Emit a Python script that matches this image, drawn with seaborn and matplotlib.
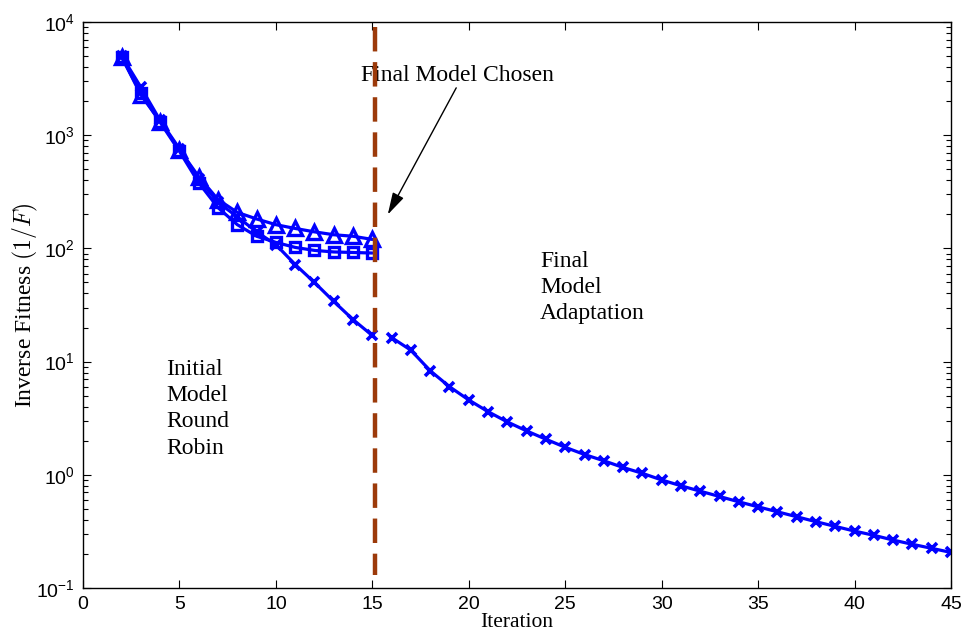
import numpy as np
import pandas as pd
import matplotlib
matplotlib.use("Agg")
import matplotlib.pyplot as plt
import seaborn as sns
from matplotlib.ticker import FixedLocator, FuncFormatter, LogLocator, NullFormatter

# ---------------- data ----------------
iter_round = [2, 3, 4, 5, 6, 7, 8, 9, 10, 11, 12, 13, 14, 15]
fit_triangle = [4950, 2270, 1320, 745, 430, 270, 208, 182, 162, 150, 140, 132, 128, 120]
fit_square = [4900, 2350, 1300, 720, 380, 229, 162, 128, 113, 102, 96, 93, 92, 91]
fit_cross_round = [5050, 2650, 1350, 760, 410, 255, 190, 140, 108, 72, 50, 34, 23.5, 17.0]

iter_adapt = list(range(16, 46))
fit_cross_adapt = [16.3, 12.6, 8.3, 6.0, 4.58, 3.61, 2.93, 2.44, 2.06, 1.75,
                   1.51, 1.33, 1.16, 1.03, 0.90, 0.80, 0.716, 0.643, 0.577, 0.521,
                   0.471, 0.426, 0.385, 0.350, 0.318, 0.292, 0.265, 0.243, 0.224, 0.206]

chosen_x = [15.15, 15.15]
chosen_y = [9000, 0.13]

x_ticks = [0, 5, 10, 15, 20, 25, 30, 35, 40, 45]
y_ticks = [1e-1, 1e0, 1e1, 1e2, 1e3, 1e4]

# ---------------- style ----------------
sns.set_theme(style="ticks")
plt.rcParams["font.family"] = ["Liberation Serif", "DejaVu Serif"]
plt.rcParams["mathtext.fontset"] = "custom"
plt.rcParams["mathtext.rm"] = "Liberation Sans"
plt.rcParams["mathtext.it"] = "Liberation Sans:italic"
plt.rcParams["text.color"] = "black"
plt.rcParams["axes.labelcolor"] = "black"
plt.rcParams["xtick.color"] = "black"
plt.rcParams["ytick.color"] = "black"

BLUE = "#0000FF"
BROWN = "#9C3A0A"

fig = plt.figure(figsize=(9.64, 6.34), dpi=100)
ax = fig.add_axes([0.0861, 0.0726, 0.9004, 0.8927])

df_tri = pd.DataFrame({"it": iter_round, "fit": fit_triangle})
df_sq = pd.DataFrame({"it": iter_round, "fit": fit_square})
df_xa = pd.DataFrame({"it": iter_round, "fit": fit_cross_round})
df_xb = pd.DataFrame({"it": iter_adapt, "fit": fit_cross_adapt})

common = dict(x="it", y="fit", color=BLUE, linewidth=2.3, estimator=None, sort=False, ax=ax)

sns.lineplot(data=df_xa, marker="x", markersize=7.5, markeredgewidth=2.6,
             markeredgecolor=BLUE, **common)
sns.lineplot(data=df_xb, marker="x", markersize=7.5, markeredgewidth=2.6,
             markeredgecolor=BLUE, **common)
sns.lineplot(data=df_sq, marker="s", markersize=7.5, markeredgewidth=2.4,
             markerfacecolor="none", markeredgecolor=BLUE, **common)
sns.lineplot(data=df_tri, marker="^", markersize=9.5, markeredgewidth=2.4,
             markerfacecolor="none", markeredgecolor=BLUE, **common)

ax.plot(chosen_x, chosen_y, color=BROWN, linewidth=3.2, dashes=(5.5, 2.4),
        dash_capstyle="butt", zorder=5)

ax.set_yscale("log")
ax.set_xlim(0, 45)
ax.set_ylim(1e-1, 1e4)
ax.xaxis.set_major_locator(FixedLocator(x_ticks))
ax.yaxis.set_major_locator(FixedLocator(y_ticks))
ax.yaxis.set_minor_locator(LogLocator(base=10, subs=np.arange(2, 10)))
ax.yaxis.set_minor_formatter(NullFormatter())
ax.yaxis.set_major_formatter(FuncFormatter(lambda v, p: r"$10^{%d}$" % int(round(np.log10(v)))))

ax.tick_params(axis="both", which="both", direction="in", top=True, right=True,
               colors="black", labelsize=14, labelfontfamily="Liberation Sans")
ax.tick_params(axis="both", which="major", length=6, width=0.8, pad=6)
ax.tick_params(axis="y", which="minor", length=3.5, width=0.8)
for s in ax.spines.values():
    s.set_visible(True)
    s.set_color("black")
    s.set_linewidth(1.0)

ax.set_xlabel("Iteration", fontsize=15.5, labelpad=0)
ax.set_ylabel("Inverse Fitness $(1/F)$", fontsize=17, labelpad=-3, math_fontfamily="cm")

ax.text(4.3, 10.6, "Initial\nModel\nRound\nRobin", fontsize=17, ha="left", va="top",
        linespacing=1.33)
ax.text(23.7, 95, "Final\nModel\nAdaptation", fontsize=17, ha="left", va="top",
        linespacing=1.33)
ax.text(19.4, 3400, "Final Model Chosen", fontsize=17, ha="center", va="center")
ax.annotate("", xy=(15.8, 199), xytext=(19.35, 2620),
            arrowprops=dict(arrowstyle="-|>,head_length=0.9,head_width=0.25",
                            color="black", lw=1.0, mutation_scale=15,
                            shrinkA=0, shrinkB=0))

fig.savefig("out.png", dpi=100, facecolor="white")
